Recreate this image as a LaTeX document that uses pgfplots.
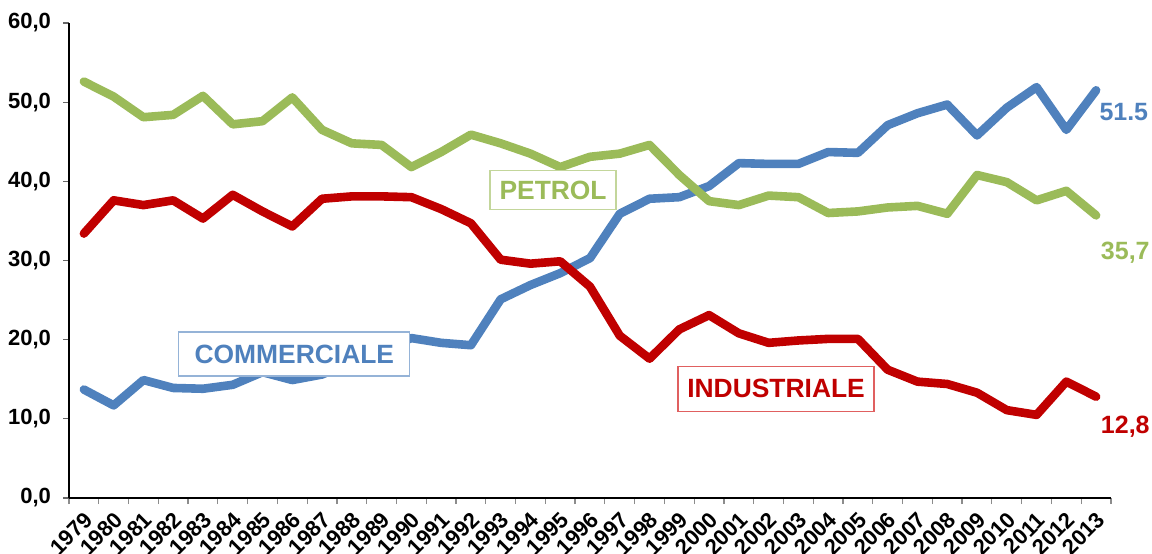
\documentclass[border=0pt]{standalone}
\usepackage{fontspec}
\setmainfont{Liberation Sans}
\usepackage{pgfplots}
\pgfplotsset{compat=1.18}

\definecolor{cblue}{HTML}{4F81BD}
\definecolor{cred}{HTML}{C00000}
\definecolor{cgreen}{HTML}{9BBB59}
\definecolor{cgreenbox}{HTML}{C3D69B}
\definecolor{cbluebox}{HTML}{95B3D7}
\definecolor{credbox}{HTML}{E06060}

\begin{document}
\begin{tikzpicture}
\useasboundingbox (-34.5pt,-27.5pt) rectangle (541.5pt,249pt);
\begin{axis}[
  scale only axis,width=521pt,height=237.5pt,clip=false,
  xmin=1978.5,xmax=2013.5,ymin=0,ymax=60,
  axis lines*=left,axis line style={black,line width=0.6pt},
  xtick={1979,...,2013},
  xticklabels={1979,1980,1981,1982,1983,1984,1985,1986,1987,1988,1989,1990,1991,1992,1993,1994,1995,1996,1997,1998,1999,2000,2001,2002,2003,2004,2005,2006,2007,2008,2009,2010,2011,2012,2013},
  minor xtick={1978.5,1979.5,...,2013.5},
  ytick={0,10,...,60},
  tick align=outside,
  x tick style={draw=none},
  minor x tick style={draw=black!45,line width=0.6pt},
  minor tick length=3pt,
  y tick style={black!60,line width=0.6pt},
  major tick length=3pt,
  xticklabel style={rotate=45,anchor=east,font=\bfseries\fontsize{11}{12}\selectfont,inner sep=1pt,yshift=-6pt,xshift=-1.5pt},
  yticklabel style={font=\bfseries\fontsize{11}{12}\selectfont,xshift=-2.5pt},
  /pgf/number format/.cd,fixed,fixed zerofill,precision=1,use comma,assume math mode=true,
]
\addplot[cblue,line width=4.3pt,line join=round,line cap=round] coordinates {
 (1979,13.7) (1980,11.7) (1981,14.9) (1982,13.9) (1983,13.8) (1984,14.3) (1985,15.9)
 (1986,14.9) (1987,15.6) (1988,17.2) (1989,18.7) (1990,20.2) (1991,19.6) (1992,19.3)
 (1993,25.1) (1994,26.9) (1995,28.4) (1996,30.3) (1997,35.9) (1998,37.8) (1999,38.0)
 (2000,39.4) (2001,42.3) (2002,42.2) (2003,42.2) (2004,43.7) (2005,43.6) (2006,47.1)
 (2007,48.6) (2008,49.7) (2009,45.8) (2010,49.3) (2011,51.9) (2012,46.5) (2013,51.5)};
\addplot[cred,line width=4.3pt,line join=round,line cap=round] coordinates {
 (1979,33.4) (1980,37.6) (1981,37.0) (1982,37.6) (1983,35.3) (1984,38.3) (1985,36.2)
 (1986,34.3) (1987,37.8) (1988,38.1) (1989,38.1) (1990,38.0) (1991,36.5) (1992,34.7)
 (1993,30.1) (1994,29.6) (1995,29.9) (1996,26.7) (1997,20.5) (1998,17.6) (1999,21.3)
 (2000,23.1) (2001,20.8) (2002,19.6) (2003,19.9) (2004,20.1) (2005,20.1) (2006,16.2)
 (2007,14.7) (2008,14.4) (2009,13.3) (2010,11.1) (2011,10.5) (2012,14.7) (2013,12.8)};
\addplot[cgreen,line width=4.3pt,line join=round,line cap=round] coordinates {
 (1979,52.6) (1980,50.7) (1981,48.1) (1982,48.4) (1983,50.8) (1984,47.2) (1985,47.6)
 (1986,50.6) (1987,46.5) (1988,44.8) (1989,44.6) (1990,41.8) (1991,43.7) (1992,45.9)
 (1993,44.8) (1994,43.5) (1995,41.8) (1996,43.1) (1997,43.5) (1998,44.6) (1999,40.8)
 (2000,37.5) (2001,37.0) (2002,38.2) (2003,38.0) (2004,36.0) (2005,36.2) (2006,36.7)
 (2007,36.9) (2008,35.9) (2009,40.8) (2010,39.9) (2011,37.6) (2012,38.8) (2013,35.7)};

\node[draw=cgreenbox,fill=white,line width=0.6pt,text=cgreen,font=\bfseries\fontsize{13.2}{14}\selectfont,
  minimum width=63pt,minimum height=19.5pt,inner sep=0pt] at (axis cs:1994.76,38.9) {PETROL};
\node[draw=cbluebox,fill=white,line width=0.6pt,text=cblue,font=\bfseries\fontsize{13.2}{14}\selectfont,
  minimum width=115.5pt,minimum height=22pt,inner sep=0pt] at (axis cs:1986.07,18.2) {COMMERCIALE};
\node[draw=credbox,fill=white,line width=0.6pt,text=cred,font=\bfseries\fontsize{13.2}{14}\selectfont,
  minimum width=98pt,minimum height=22.5pt,inner sep=0pt] at (axis cs:2002.25,13.8) {INDUSTRIALE};

\node[anchor=west,inner sep=0pt,text=cblue,font=\bfseries\fontsize{12.5}{14}\selectfont] at (axis cs:2013.1,48.7) {51.5};
\node[anchor=west,inner sep=0pt,text=cgreen,font=\bfseries\fontsize{12.5}{14}\selectfont] at (axis cs:2013.15,31.0) {35,7};
\node[anchor=west,inner sep=0pt,text=cred,font=\bfseries\fontsize{12.5}{14}\selectfont] at (axis cs:2013.15,9.0) {12,8};
\end{axis}
\end{tikzpicture}
\end{document}
